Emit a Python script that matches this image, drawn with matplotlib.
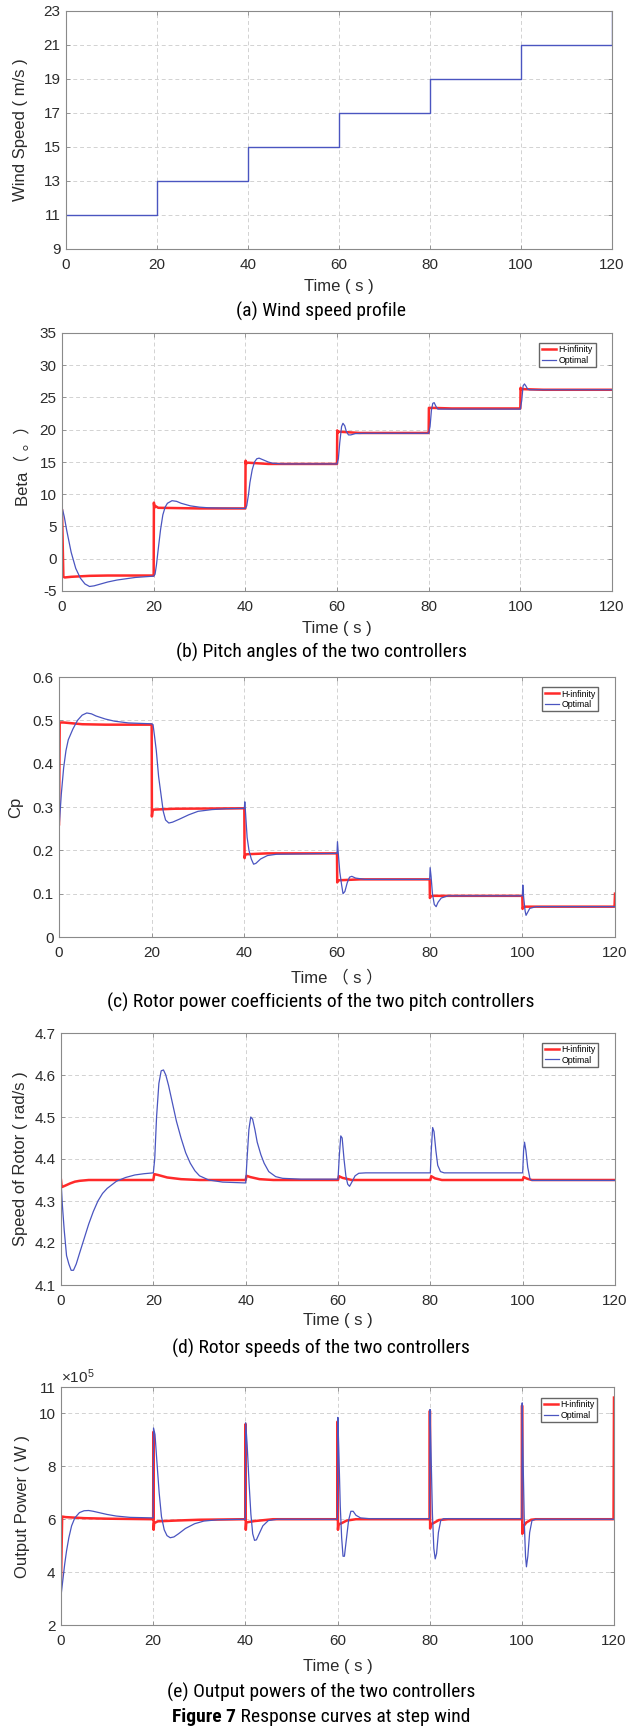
import numpy as np
import matplotlib
matplotlib.use('Agg')
import matplotlib.pyplot as plt
from matplotlib import font_manager

# Figure 7 - response curves of the two pitch controllers at step wind
W, H = 632, 1726

time_ticks = [0, 20, 40, 60, 80, 100, 120]

# (a) wind speed profile (m/s)
wind = [(0, 11), (20, 11), (20, 13), (40, 13), (40, 15), (60, 15), (60, 17),
        (80, 17), (80, 19), (100, 19), (100, 21), (120, 21), (120, 23)]

# (b) pitch angle (deg)
beta_hinf = [(0, 7.5), (0.3, -2.8), (0.6, -2.9), (2, -2.8), (6, -2.65), (10, -2.6), (20, -2.6),
             (20.05, 8.7), (20.15, 7.9), (20.3, 8.2), (21, 7.9), (30, 7.8), (40, 7.8),
             (40.05, 15.2), (40.15, 14.7), (40.4, 14.9), (45, 14.7), (60, 14.7),
             (60.05, 19.9), (60.15, 19.5), (60.4, 19.7), (65, 19.5), (80, 19.5),
             (80.05, 23.4), (80.15, 23.3), (80.4, 23.4), (85, 23.3), (100, 23.3),
             (100.05, 26.5), (100.15, 26.2), (100.4, 26.3), (105, 26.2), (120, 26.2)]
beta_opt = [(0, 8), (0.5, 6.5), (1, 4.5), (2, 1), (3, -1.5), (4, -3), (5, -3.9), (6, -4.3),
            (7, -4.2), (8, -4.0), (10, -3.6), (12, -3.3), (14, -3.1), (16, -2.9), (18, -2.8),
            (20, -2.7), (20.3, -2.4), (20.6, -1), (21, 1.5), (21.5, 4.5), (22, 6.8), (22.5, 8.0),
            (23, 8.6), (24, 9.0), (25, 8.9), (26, 8.6), (28, 8.2), (30, 8.0), (32, 7.9), (35, 7.85),
            (40, 7.8), (40.3, 8.2), (40.7, 10), (41, 11.8), (41.5, 13.8), (42, 15.0), (42.5, 15.5),
            (43, 15.6), (44, 15.3), (45, 15.0), (46, 14.8), (48, 14.7), (60, 14.7),
            (60.3, 15.5), (60.6, 18), (61, 20.5), (61.3, 21.0), (61.7, 20.6), (62, 19.8),
            (62.5, 19.2), (63, 19.2), (64, 19.4), (66, 19.45), (80, 19.45),
            (80.3, 20.5), (80.6, 23), (80.9, 24.1), (81.2, 24.2), (81.6, 23.6), (82, 23.2),
            (83, 23.2), (100, 23.2), (100.3, 24.5), (100.6, 26.8), (100.9, 27.1), (101.2, 26.8),
            (101.6, 26.3), (102, 26.2), (120, 26.2)]

# (c) power coefficient
cp_hinf = [(0, 0.26), (0.15, 0.495), (1, 0.495), (5, 0.491), (10, 0.49), (20, 0.49),
           (20.05, 0.278), (20.2, 0.293), (20.5, 0.294), (25, 0.296), (40, 0.297),
           (40.05, 0.182), (40.2, 0.19), (40.6, 0.191), (45, 0.193), (60, 0.193),
           (60.05, 0.126), (60.2, 0.13), (60.6, 0.131), (65, 0.133), (80, 0.133),
           (80.05, 0.09), (80.2, 0.094), (80.6, 0.095), (100, 0.095),
           (100.05, 0.065), (100.2, 0.068), (100.6, 0.07), (119.9, 0.07), (120, 0.1)]
cp_opt = [(0, 0.25), (0.5, 0.33), (1, 0.39), (1.5, 0.43), (2, 0.455), (3, 0.48), (4, 0.5),
          (5, 0.512), (6, 0.517), (7, 0.515), (8, 0.51), (10, 0.503), (12, 0.498), (15, 0.494),
          (20, 0.492), (20.3, 0.49), (20.6, 0.465), (21, 0.43), (21.5, 0.37), (22, 0.33),
          (22.5, 0.29), (23, 0.27), (23.7, 0.263), (24.5, 0.265), (26, 0.272), (28, 0.282),
          (30, 0.29), (33, 0.294), (36, 0.296), (40, 0.297), (40.1, 0.312), (40.3, 0.28),
          (40.6, 0.23), (41, 0.2), (41.5, 0.18), (42, 0.168), (42.5, 0.17), (43.5, 0.18),
          (45, 0.188), (47, 0.191), (60, 0.193), (60.1, 0.22), (60.3, 0.19), (60.6, 0.15),
          (61, 0.12), (61.3, 0.1), (61.7, 0.105), (62.2, 0.125), (62.7, 0.138), (63.2, 0.14),
          (64, 0.136), (66, 0.133), (80, 0.133), (80.1, 0.16), (80.3, 0.14), (80.6, 0.1),
          (81, 0.075), (81.4, 0.07), (81.8, 0.08), (82.5, 0.09), (84, 0.095), (100, 0.095),
          (100.1, 0.12), (100.3, 0.09), (100.6, 0.06), (100.8, 0.05), (101.2, 0.058),
          (101.6, 0.066), (103, 0.07), (120, 0.07)]

# (d) rotor speed (rad/s)
wr_hinf = [(0, 4.35), (0.15, 4.333), (1, 4.337), (2, 4.342), (3, 4.346), (4, 4.348), (6, 4.35),
           (20, 4.35), (20.2, 4.364), (21, 4.362), (23, 4.356), (26, 4.352), (30, 4.35),
           (40, 4.35), (40.2, 4.36), (41, 4.357), (43, 4.352), (46, 4.35), (60, 4.35),
           (60.2, 4.359), (61, 4.355), (63, 4.35), (80, 4.35), (80.2, 4.359), (81, 4.354),
           (82.5, 4.35), (100, 4.35), (100.2, 4.357), (101, 4.353), (102, 4.35), (120, 4.35)]
wr_opt = [(0, 4.35), (0.3, 4.29), (0.7, 4.23), (1.2, 4.17), (1.7, 4.15), (2.2, 4.135),
          (2.7, 4.135), (3.3, 4.15), (4, 4.175), (5, 4.21), (6, 4.245), (7, 4.275), (8, 4.3),
          (9, 4.318), (10, 4.33), (12, 4.347), (14, 4.356), (16, 4.362), (18, 4.365), (20, 4.367),
          (20.3, 4.4), (20.7, 4.5), (21.2, 4.58), (21.7, 4.61), (22.2, 4.612), (22.7, 4.6),
          (23.3, 4.575), (24, 4.54), (25, 4.49), (26, 4.45), (27, 4.415), (28, 4.39),
          (29, 4.372), (30, 4.36), (32, 4.35), (35, 4.345), (40, 4.343), (40.3, 4.4),
          (40.7, 4.47), (41.1, 4.5), (41.5, 4.495), (42, 4.47), (42.5, 4.44), (43.3, 4.41),
          (44, 4.39), (45, 4.37), (46.5, 4.358), (48, 4.354), (52, 4.352), (60, 4.352),
          (60.3, 4.41), (60.6, 4.455), (60.9, 4.45), (61.3, 4.4), (61.7, 4.36), (62.1, 4.34),
          (62.5, 4.335), (63, 4.345), (63.7, 4.36), (64.5, 4.366), (66, 4.367), (80, 4.367),
          (80.2, 4.42), (80.5, 4.475), (80.8, 4.465), (81.2, 4.42), (81.6, 4.385), (82.2, 4.37),
          (83, 4.367), (100, 4.367), (100.2, 4.42), (100.4, 4.44), (100.7, 4.42), (101.1, 4.38),
          (101.6, 4.352), (102, 4.349), (120, 4.349)]

# (e) output power (x1e5 W)
p_hinf = [(0, 3.6), (0.25, 6.1), (1, 6.08), (5, 6.04), (10, 6.02), (20, 6.0),
          (20.05, 9.3), (20.1, 5.6), (20.2, 5.85), (21, 5.92), (25, 5.95), (30, 5.98), (40, 6.0),
          (40.05, 9.6), (40.1, 5.6), (40.2, 5.88), (42, 5.93), (46, 6.0), (60, 6.0),
          (60.05, 9.7), (60.1, 5.6), (60.2, 5.8), (61, 5.86), (62, 5.95), (64, 6.0), (80, 6.0),
          (80.05, 10.1), (80.1, 5.65), (80.2, 5.8), (81, 5.87), (82, 5.97), (84, 6.0), (100, 6.0),
          (100.05, 10.3), (100.1, 5.45), (100.2, 5.7), (101, 5.88), (102, 5.98), (103, 6.0),
          (119.9, 6.0), (120, 10.6)]
p_opt = [(0, 3.1), (0.4, 3.7), (0.8, 4.3), (1.2, 4.8), (1.7, 5.3), (2.3, 5.75), (3, 6.05),
         (4, 6.25), (5, 6.32), (6, 6.33), (7, 6.3), (8, 6.26), (10, 6.18), (12, 6.12), (15, 6.07),
         (20, 6.05), (20.08, 9.45), (20.4, 9.2), (20.8, 8.2), (21.3, 7.0), (21.8, 6.1),
         (22.4, 5.6), (23, 5.38), (23.7, 5.3), (24.5, 5.33), (25.5, 5.45), (27, 5.65),
         (29, 5.83), (31, 5.93), (34, 5.98), (40, 6.0), (40.08, 9.65), (40.4, 8.8), (40.8, 7.4),
         (41.2, 6.2), (41.6, 5.45), (42, 5.2), (42.4, 5.22), (43, 5.45), (43.8, 5.75), (45, 5.95),
         (47, 6.0), (60, 6.0), (60.08, 9.85), (60.3, 8.5), (60.6, 6.5), (60.9, 5.3), (61.2, 4.6),
         (61.5, 4.6), (61.9, 5.2), (62.4, 5.95), (62.9, 6.3), (63.4, 6.3), (64, 6.15), (65, 6.05),
         (67, 6.02), (80, 6.02), (80.08, 10.15), (80.3, 8.5), (80.6, 6.2), (80.9, 4.9),
         (81.2, 4.5), (81.5, 4.7), (81.9, 5.5), (82.4, 5.95), (83, 6.02), (100, 6.02),
         (100.08, 10.4), (100.3, 8.0), (100.55, 5.8), (100.8, 4.6), (101, 4.2), (101.3, 4.6),
         (101.7, 5.5), (102.2, 5.95), (103, 6.0), (120, 6.0)]

RED = '#ff2a2a'
BLUE = '#4a55c0'
GRAY = '#8a8a8a'
TXT = '#2b2b2b'

names = {f.name for f in font_manager.fontManager.ttflist}
SANS = ['Liberation Sans', 'DejaVu Sans']
NARROW = ['Liberation Sans']
for cand in ['Liberation Sans Narrow', 'Roboto Condensed', 'Open Sans Condensed', 'DejaVu Sans Condensed']:
    if cand in names:
        NARROW = [cand]
        break
plt.rcParams['font.family'] = SANS
plt.rcParams['axes.unicode_minus'] = False
plt.rcParams['mathtext.fontset'] = 'custom'
plt.rcParams['mathtext.rm'] = 'Liberation Sans'


def place(l, r, t, b):
    return [l / W, 1 - b / H, (r - l) / W, (b - t) / H]


def style(ax, box, ylim, yticks, ylabel, ylab_x, xlabel, xlab_y, lab_family=SANS):
    l, r, t, b = box
    ax.set_xlim(0, 120)
    ax.set_xticks(time_ticks)
    ax.set_ylim(*ylim)
    ax.set_yticks(yticks)
    ax.grid(True, color='#d2d2d2', ls=(0, (4, 3)), lw=0.7)
    ax.set_axisbelow(True)
    ax.tick_params(direction='in', length=3, width=0.6, top=True, right=True,
                   color=GRAY, labelcolor=TXT, labelsize=11)
    ax.tick_params(axis='x', pad=6.5)
    ax.tick_params(axis='y', pad=4)
    for s in ax.spines.values():
        s.set_color(GRAY)
        s.set_linewidth(0.8)
    ax.set_ylabel(ylabel, fontsize=12, color=TXT, va='center', family=lab_family)
    ax.yaxis.set_label_coords((ylab_x - l) / (r - l), 0.5)
    ax.set_xlabel(xlabel, fontsize=12, color=TXT, va='center', family=lab_family)
    ax.xaxis.set_label_coords(0.5, -(xlab_y - b) / (b - t))


def legend(ax):
    ax.legend(loc='upper right', bbox_to_anchor=(0.97, 0.962), prop={'family': SANS, 'size': 6.3},
              handlelength=1.6, handletextpad=0.3, borderpad=0.3, labelspacing=0.15,
              fancybox=False, edgecolor='#666666', framealpha=1, borderaxespad=0)


def xy(pts):
    a = np.array(pts, dtype=float)
    return a[:, 0], a[:, 1]


fig = plt.figure(figsize=(W / 100, H / 100), dpi=100)

# (a)
box_a = (66, 612, 11, 249)
ax = fig.add_axes(place(*box_a))
ax.plot(*xy(wind), color=BLUE, lw=1.0)
style(ax, box_a, (9, 23), np.arange(9, 24, 2), 'Wind Speed ( m/s )', 21, 'Time ( s )', 287)

# (b)
box_b = (62, 612, 333, 591)
ax = fig.add_axes(place(*box_b))
ax.plot(*xy(beta_hinf), color=RED, lw=1.8, label='H-infinity')
ax.plot(*xy(beta_opt), color=BLUE, lw=0.9, label='Optimal')
style(ax, box_b, (-5, 35), np.arange(-5, 36, 5), 'Beta（ 。）', 22, 'Time ( s )', 629,
      lab_family=['Liberation Sans', 'Noto Sans CJK SC'])
legend(ax)

# (c)
box_c = (59, 615, 677, 937)
ax = fig.add_axes(place(*box_c))
ax.plot(*xy(cp_hinf), color=RED, lw=1.8, label='H-infinity')
ax.plot(*xy(cp_opt), color=BLUE, lw=0.9, label='Optimal')
style(ax, box_c, (0, 0.6), np.round(np.arange(0, 0.61, 0.1), 1), 'Cp', 16, 'Time （ s ）', 977,
      lab_family=['Liberation Sans', 'Noto Sans CJK SC'])
ax.set_yticklabels(['0', '0.1', '0.2', '0.3', '0.4', '0.5', '0.6'])
legend(ax)

# (d)
box_d = (61, 615, 1033, 1285)
ax = fig.add_axes(place(*box_d))
ax.plot(*xy(wr_hinf), color=RED, lw=1.8, label='H-infinity')
ax.plot(*xy(wr_opt), color=BLUE, lw=0.9, label='Optimal')
style(ax, box_d, (4.1, 4.7), np.round(np.arange(4.1, 4.71, 0.1), 1), 'Speed of Rotor ( rad/s )', 21,
      'Time ( s )', 1321)
legend(ax)

# (e)
box_e = (61, 614, 1387, 1625)
ax = fig.add_axes(place(*box_e))
ax.plot(*xy(p_hinf), color=RED, lw=1.8, label='H-infinity')
ax.plot(*xy(p_opt), color=BLUE, lw=0.9, label='Optimal')
style(ax, box_e, (2, 11), [2, 4, 6, 8, 10, 11], 'Output Power ( W )', 23, 'Time ( s )', 1666)
ax.text(0.0, 1 + 4 / 238, r'$\mathregular{\times10^{5}}$', transform=ax.transAxes,
        fontsize=11, color=TXT, ha='left', va='baseline')
ax.legend(loc='upper right', bbox_to_anchor=(0.97, 0.955), prop={'family': SANS, 'size': 6.3},
          handlelength=1.6, handletextpad=0.3, borderpad=0.3, labelspacing=0.15,
          fancybox=False, edgecolor='#666666', framealpha=1, borderaxespad=0)

# captions
captions = [('(a) Wind speed profile', 311),
            ('(b) Pitch angles of the two controllers', 652),
            ('(c) Rotor power coefficients of the two pitch controllers', 1002),
            ('(d) Rotor speeds of the two controllers', 1348),
            ('(e) Output powers of the two controllers', 1692)]
cx = 321 / W
CAP = 13 if NARROW == ['Liberation Sans'] else 14
for txt, y in captions:
    fig.text(cx, 1 - y / H, txt, ha='center', va='center', fontsize=CAP, family=NARROW, color='black')

# "Figure 7" bold + rest regular, centred as a whole
r = fig.canvas.get_renderer()
t1 = fig.text(0, 1 - 1717 / H, 'Figure 7', fontsize=CAP, family=NARROW, weight='bold', va='center')
t2 = fig.text(0, 1 - 1717 / H, ' Response curves at step wind', fontsize=CAP, family=NARROW, va='center')
w1 = t1.get_window_extent(r).width
w2 = t2.get_window_extent(r).width
x0 = 321 - (w1 + w2) / 2
t1.set_x(x0 / W)
t2.set_x((x0 + w1) / W)

fig.savefig('out.png', dpi=100)
